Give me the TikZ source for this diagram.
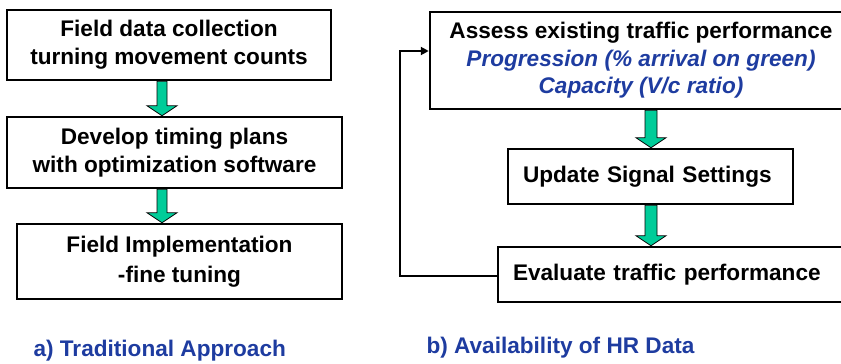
\documentclass[tikz,border=0pt]{standalone}
\usepackage{fontspec}
\setmainfont{Liberation Sans}
\usetikzlibrary{arrows.meta,positioning,calc}
\definecolor{hrblue}{RGB}{30,60,160}
\definecolor{hrgreen}{RGB}{0,204,153}
\newcommand{\boxfont}{\fontsize{22.6}{28}\selectfont\bfseries}
% block arrow: x of the shaft, upper node, lower node, half width of the shaft
\newcommand{\fatarrow}[4]{%
  \filldraw[fat] (#1-#4,0 |- #2.south) -- ($(#1,0 |- #3.north)+(-#4,-10)$)
    -- ($(#1,0 |- #3.north)+(-15,-10)$) -- (#1,0 |- #3.north)
    -- ($(#1,0 |- #3.north)+(15,-10)$) -- ($(#1,0 |- #3.north)+(#4,-10)$)
    -- (#1+#4,0 |- #2.south) -- cycle;}

\begin{document}
\begin{tikzpicture}[
    x=1pt, y=-1pt,
    box/.style={rectangle, draw=black, line width=2.5pt, inner sep=0pt,
                align=center, font=\boxfont},
    fat/.style={fill=hrgreen, draw=black, line width=0.8pt, line join=miter},
    loop/.style={-{Triangle[length=8pt,width=8pt]}, line width=2pt},
    caption/.style={anchor=west, text=hrblue, font=\boxfont}
  ]
    \clip (0,0) rectangle (841,364);

    % a) traditional
    \node[box, minimum width=324pt, minimum height=70pt] (f1) at (169,45)
      {Field data collection\\turning movement counts};
    \node[box, minimum width=335pt, minimum height=71pt] (f2) at (174.5,152.5)
      {Develop timing plans\\with optimization software};
    \node[box, minimum width=325pt, minimum height=75pt] (f3) at (179.5,261.5)
      {Field Implementation\\[2pt]-fine tuning};
    \fatarrow{162}{f1}{f2}{5}
    \fatarrow{162}{f2}{f3}{5}
    \node[caption] (capa) at (30,351) {a) Traditional Approach};

    % b) HR data
    \node[box, minimum width=422pt, minimum height=97pt, font=\fontsize{22.6}{27.5}\selectfont\bfseries] (assess) at (641,60.5)
      {Assess existing traffic performance\\
       {\color{hrblue}\itshape Progression (\% arrival on green)}\\
       {\color{hrblue}\itshape Capacity (V/c ratio)}};
    \node[box, minimum width=285pt, minimum height=55pt, text width=255pt,
          inner xsep=15pt, align=left] (update) at (650.5,176.5)
      {Update Signal Settings};
    \node[box, minimum width=360pt, minimum height=55pt, text width=330pt,
          inner xsep=15pt, align=left] (eval) at (678,274.5)
      {Evaluate traffic performance};
    \fatarrow{651}{assess}{update}{6}
    \fatarrow{651}{update}{eval}{6}
    \draw[loop] ([yshift=-1.5pt]eval.west) -- ++(-97,0) |- ([yshift=9.5pt]assess.west);
    \node[caption] (capb) at (423,348) {b) Availability of HR Data};
\end{tikzpicture}
\end{document}
